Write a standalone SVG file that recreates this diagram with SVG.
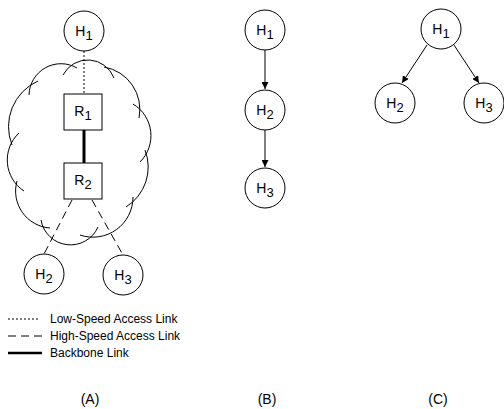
<svg xmlns="http://www.w3.org/2000/svg" width="504" height="409" viewBox="0 0 504 409">
<defs>
<style>
.n{fill:#fff;stroke:#000;stroke-width:1}
.t{font-family:"Liberation Sans",Arial,sans-serif;font-size:14px;fill:#000}
.s{font-size:13px}
.lg{font-family:"Liberation Sans",Arial,sans-serif;font-size:12px;fill:#000}
.c{fill:none;stroke:#000;stroke-width:1}
.a{fill:none;stroke:#000;stroke-width:1;marker-end:url(#ah)}
</style>
<marker id="ah" viewBox="0 0 10 10" refX="10" refY="5" markerWidth="7" markerHeight="7" markerUnits="userSpaceOnUse" orient="auto">
<path d="M0,0 L10,5 L0,10 z" fill="#000"/>
</marker>
</defs>
<rect width="504" height="409" fill="#fff"/>
<g id="cloud" class="c">
<path d="M 29 95 A 32 32 0 0 1 77 68"/>
<path d="M 63 75 A 28 28 0 0 1 114 78"/>
<path d="M 104 67 A 43 43 0 0 1 139 118"/>
<path d="M 133 104 A 37 37 0 0 1 140 162"/>
<path d="M 145 150 A 47 47 0 0 1 126 207"/>
<path d="M 133 197 A 40 40 0 0 1 80 235"/>
<path d="M 98 227 A 30 30 0 0 1 41 220"/>
<path d="M 50 228 A 37 37 0 0 1 17 181"/>
<path d="M 24 191 A 37 37 0 0 1 19 133"/>
<path d="M 12 145 A 50 50 0 0 1 38 81"/>
</g>
<g id="connectors">
<line x1="84" y1="51" x2="84" y2="94" stroke="#000" stroke-width="1" stroke-dasharray="2,2"/>
<line x1="84" y1="130" x2="84" y2="163" stroke="#000" stroke-width="3"/>
<line x1="72" y1="200" x2="44" y2="254" stroke="#000" stroke-width="1" stroke-dasharray="8,5"/>
<line x1="92" y1="200" x2="123" y2="255" stroke="#000" stroke-width="1" stroke-dasharray="8,5"/>
<line class="a" x1="265" y1="50" x2="265" y2="89"/>
<line class="a" x1="265" y1="130" x2="265" y2="167"/>
<line class="a" x1="427" y1="45" x2="402" y2="83"/>
<line class="a" x1="454" y1="45" x2="479" y2="83"/>
</g>
<g id="A_H1"><circle class="n" cx="84" cy="31" r="20"/><text class="t" x="84" y="36" text-anchor="middle">H<tspan class="s" dy="4">1</tspan></text></g>
<g id="A_R1"><rect class="n" x="64" y="94" width="38" height="36"/><text class="t" x="83" y="116" text-anchor="middle">R<tspan class="s" dy="4">1</tspan></text></g>
<g id="A_R2"><rect class="n" x="64" y="163" width="38" height="36"/><text class="t" x="83" y="185" text-anchor="middle">R<tspan class="s" dy="4">2</tspan></text></g>
<g id="A_H2"><circle class="n" cx="44" cy="274" r="20"/><text class="t" x="44" y="279" text-anchor="middle">H<tspan class="s" dy="4">2</tspan></text></g>
<g id="A_H3"><circle class="n" cx="123" cy="275" r="20"/><text class="t" x="123" y="280" text-anchor="middle">H<tspan class="s" dy="4">3</tspan></text></g>
<g id="legend">
<line x1="8" y1="319" x2="40" y2="319" stroke="#000" stroke-width="1" stroke-dasharray="2,2"/>
<text class="lg" x="50" y="323">Low-Speed Access Link</text>
<line x1="8" y1="336" x2="42" y2="336" stroke="#000" stroke-width="1" stroke-dasharray="8,5"/>
<text class="lg" x="50" y="340">High-Speed Access Link</text>
<line x1="8" y1="353" x2="42" y2="353" stroke="#000" stroke-width="2.5"/>
<text class="lg" x="50" y="357">Backbone Link</text>
</g>
<g id="B_H1"><circle class="n" cx="265" cy="30" r="20"/><text class="t" x="265" y="35" text-anchor="middle">H<tspan class="s" dy="4">1</tspan></text></g>
<g id="B_H2"><circle class="n" cx="265" cy="110" r="20"/><text class="t" x="265" y="115" text-anchor="middle">H<tspan class="s" dy="4">2</tspan></text></g>
<g id="B_H3"><circle class="n" cx="265" cy="188" r="20"/><text class="t" x="265" y="193" text-anchor="middle">H<tspan class="s" dy="4">3</tspan></text></g>
<g id="C_H1"><circle class="n" cx="441" cy="29" r="20"/><text class="t" x="441" y="34" text-anchor="middle">H<tspan class="s" dy="4">1</tspan></text></g>
<g id="C_H2"><circle class="n" cx="395" cy="103" r="20"/><text class="t" x="395" y="108" text-anchor="middle">H<tspan class="s" dy="4">2</tspan></text></g>
<g id="C_H3"><circle class="n" cx="484" cy="103" r="20"/><text class="t" x="484" y="108" text-anchor="middle">H<tspan class="s" dy="4">3</tspan></text></g>
<g id="captions" class="t">
<text x="90" y="404" text-anchor="middle">(A)</text>
<text x="267" y="404" text-anchor="middle">(B)</text>
<text x="438" y="404" text-anchor="middle">(C)</text>
</g>
</svg>
